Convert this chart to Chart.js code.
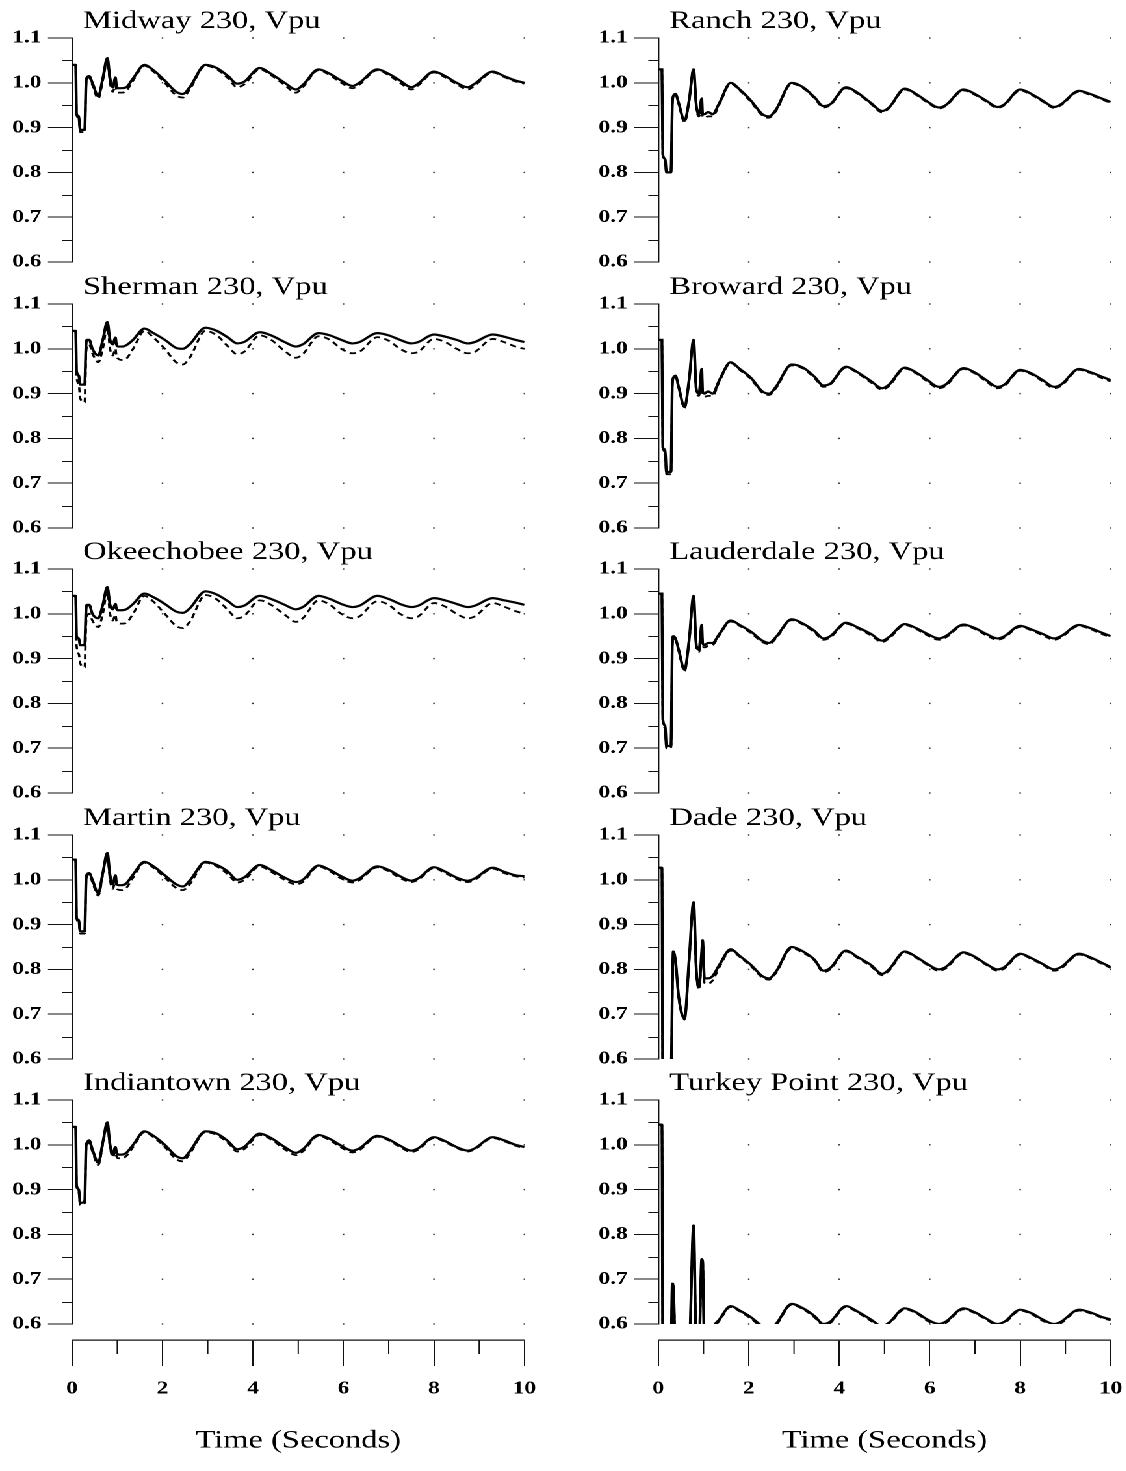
<!DOCTYPE html>
<html>
<head>
<meta charset="utf-8">
<script src="https://cdn.jsdelivr.net/npm/chart.js@4/dist/chart.umd.min.js"></script>
<style>
  body { margin: 0; background: #fff; overflow: hidden; }
  /* la figura original está estirada en horizontal */
  #lienzo { position: relative; width: 866px; height: 1471px; transform: scaleX(1.3); transform-origin: 0 0; }
  #lienzo canvas { position: absolute; }
</style>
</head>
<body>
<div id="lienzo"></div>
<script>
//* instantes de muestreo (segundos), comunes a todas las barras
const tiempo = [
  0, 0.08, 0.1, 0.15, 0.18, 0.28, 0.31, 0.33,
  0.38, 0.45, 0.58, 0.68, 0.78, 0.84, 0.9, 0.96,
  0.98, 1.02, 1.1, 1.2, 1.35, 1.6, 1.8, 2.05,
  2.3, 2.45, 2.6, 2.95, 3.2, 3.45, 3.65, 3.8,
  4.15, 4.4, 4.7, 4.95, 5.1, 5.45, 5.7, 5.95,
  6.2, 6.35, 6.75, 7.0, 7.25, 7.5, 7.65, 8.0,
  8.25, 8.5, 8.75, 8.9, 9.3, 9.55, 9.8, 10
];

//* tensiones en p.u. (línea continua y línea discontinua)
const midwayContinua = [
  1.04, 1.04, 0.93, 0.925, 0.895, 0.895, 1.0, 1.012,
  1.015, 1.0, 0.97, 1.01, 1.055, 1.01, 0.99, 1.012,
  0.995, 0.988, 0.988, 0.99, 1.01, 1.04, 1.028, 1.005,
  0.98, 0.975, 0.99, 1.04, 1.033, 1.015, 0.998, 1.002,
  1.033, 1.02, 1.0, 0.985, 0.995, 1.03, 1.02, 1.005,
  0.993, 1.0, 1.03, 1.02, 1.005, 0.99, 0.998, 1.025,
  1.015, 1.0, 0.99, 0.998, 1.025, 1.015, 1.005, 1.0
];
const midwayPunteada = [
  1.04, 1.04, 0.93, 0.92, 0.89, 0.89, 0.995, 1.008,
  1.012, 0.995, 0.965, 1.005, 1.05, 1.0, 0.98, 0.995,
  0.985, 0.978, 0.978, 0.982, 1.005, 1.038, 1.025, 1.0,
  0.972, 0.967, 0.985, 1.038, 1.03, 1.01, 0.99, 0.996,
  1.03, 1.017, 0.995, 0.978, 0.99, 1.028, 1.017, 1.0,
  0.988, 0.996, 1.028, 1.017, 1.0, 0.985, 0.994, 1.023,
  1.012, 0.997, 0.985, 0.994, 1.023, 1.013, 1.003, 0.998
];
const shermanContinua = [
  1.04, 1.04, 0.95, 0.94, 0.92, 0.92, 1.01, 1.02,
  1.02, 1.0, 0.985, 1.02, 1.06, 1.02, 1.01, 1.025,
  1.01, 1.005, 1.005, 1.008, 1.02, 1.045, 1.035, 1.02,
  1.002, 1.0, 1.01, 1.047, 1.04, 1.025, 1.012, 1.015,
  1.037, 1.03, 1.015, 1.005, 1.01, 1.035, 1.03, 1.02,
  1.012, 1.015, 1.035, 1.03, 1.02, 1.012, 1.015, 1.032,
  1.027, 1.02, 1.012, 1.015, 1.032, 1.027, 1.02, 1.015
];
const shermanPunteada = [
  1.04, 1.04, 0.94, 0.92, 0.89, 0.88, 0.99, 1.005,
  1.01, 0.99, 0.97, 1.0, 1.05, 1.0, 0.985, 1.0,
  0.985, 0.978, 0.975, 0.978, 1.0, 1.04, 1.025, 1.0,
  0.97, 0.965, 0.98, 1.04, 1.03, 1.005, 0.988, 0.993,
  1.03, 1.02, 0.995, 0.98, 0.988, 1.028, 1.02, 1.0,
  0.99, 0.993, 1.026, 1.018, 1.0, 0.99, 0.993, 1.022,
  1.015, 1.0, 0.99, 0.993, 1.022, 1.015, 1.005, 1.0
];
const okeechobeeContinua = [
  1.04, 1.04, 0.95, 0.945, 0.93, 0.93, 1.01, 1.02,
  1.02, 1.0, 0.99, 1.02, 1.06, 1.02, 1.01, 1.022,
  1.012, 1.008, 1.008, 1.01, 1.022, 1.045, 1.037, 1.022,
  1.005, 1.002, 1.012, 1.05, 1.043, 1.028, 1.015, 1.018,
  1.04, 1.033, 1.02, 1.01, 1.015, 1.04, 1.033, 1.022,
  1.015, 1.018, 1.04, 1.033, 1.022, 1.015, 1.018, 1.035,
  1.03, 1.022, 1.015, 1.018, 1.035, 1.03, 1.025, 1.02
];
const okeechobeePunteada = [
  1.04, 1.04, 0.93, 0.91, 0.89, 0.88, 0.98, 0.995,
  1.0, 0.985, 0.97, 1.0, 1.05, 1.0, 0.985, 0.998,
  0.985, 0.98, 0.978, 0.98, 1.0, 1.04, 1.027, 1.0,
  0.973, 0.968, 0.982, 1.042, 1.032, 1.008, 0.99, 0.995,
  1.03, 1.02, 0.998, 0.982, 0.99, 1.03, 1.02, 1.0,
  0.99, 0.994, 1.028, 1.02, 1.0, 0.99, 0.994, 1.024,
  1.016, 1.0, 0.99, 0.994, 1.024, 1.016, 1.006, 1.0
];
const martinContinua = [
  1.045, 1.045, 0.915, 0.91, 0.885, 0.885, 1.0, 1.012,
  1.015, 1.0, 0.97, 1.015, 1.06, 1.01, 0.99, 1.01,
  0.995, 0.988, 0.988, 0.992, 1.012, 1.04, 1.03, 1.01,
  0.99, 0.985, 0.998, 1.04, 1.033, 1.018, 1.0, 1.005,
  1.033, 1.022, 1.005, 0.995, 1.0, 1.032, 1.022, 1.008,
  0.998, 1.003, 1.03, 1.022, 1.008, 0.998, 1.003, 1.028,
  1.018, 1.005, 0.998, 1.003, 1.027, 1.018, 1.01, 1.008
];
const martinPunteada = [
  1.045, 1.045, 0.915, 0.905, 0.88, 0.88, 0.995, 1.008,
  1.012, 0.995, 0.965, 1.01, 1.055, 1.0, 0.98, 0.998,
  0.985, 0.978, 0.977, 0.982, 1.005, 1.038, 1.027, 1.005,
  0.982, 0.977, 0.99, 1.038, 1.03, 1.012, 0.994, 0.999,
  1.03, 1.018, 1.0, 0.99, 0.995, 1.03, 1.019, 1.003,
  0.994, 0.999, 1.028, 1.019, 1.004, 0.995, 1.0, 1.026,
  1.015, 1.002, 0.995, 1.0, 1.025, 1.015, 1.008, 1.005
];
const indiantownContinua = [
  1.04, 1.04, 0.91, 0.9, 0.87, 0.875, 0.995, 1.005,
  1.01, 0.99, 0.96, 1.005, 1.05, 1.0, 0.98, 0.995,
  0.985, 0.978, 0.978, 0.982, 1.0, 1.03, 1.02, 1.0,
  0.975, 0.97, 0.985, 1.03, 1.025, 1.008, 0.99, 0.995,
  1.025, 1.015, 0.995, 0.982, 0.99, 1.022, 1.013, 0.998,
  0.987, 0.992, 1.02, 1.012, 0.998, 0.987, 0.992, 1.017,
  1.008, 0.995, 0.987, 0.992, 1.017, 1.01, 1.0, 0.995
];
const indiantownPunteada = [
  1.04, 1.04, 0.91, 0.895, 0.865, 0.87, 0.99, 1.0,
  1.005, 0.985, 0.955, 1.0, 1.045, 0.995, 0.972, 0.985,
  0.975, 0.97, 0.97, 0.975, 0.995, 1.028, 1.017, 0.995,
  0.968, 0.963, 0.98, 1.028, 1.022, 1.004, 0.985, 0.99,
  1.022, 1.012, 0.99, 0.977, 0.985, 1.02, 1.01, 0.994,
  0.983, 0.988, 1.018, 1.01, 0.995, 0.984, 0.989, 1.015,
  1.006, 0.993, 0.985, 0.99, 1.015, 1.008, 0.998, 0.993
];
const ranchContinua = [
  1.03, 1.03, 0.84, 0.83, 0.8, 0.8, 0.95, 0.97,
  0.975, 0.955, 0.915, 0.96, 1.03, 0.95, 0.93, 0.965,
  0.93, 0.93, 0.935, 0.93, 0.955, 1.0, 0.985, 0.96,
  0.93, 0.925, 0.94, 1.0, 0.99, 0.968, 0.948, 0.952,
  0.99, 0.978, 0.955, 0.937, 0.945, 0.987, 0.975, 0.958,
  0.945, 0.95, 0.985, 0.975, 0.96, 0.946, 0.952, 0.985,
  0.975, 0.96, 0.946, 0.952, 0.982, 0.975, 0.965, 0.957
];
const ranchPunteada = [
  1.03, 1.03, 0.84, 0.83, 0.8, 0.8, 0.95, 0.97,
  0.975, 0.953, 0.912, 0.958, 1.028, 0.945, 0.925, 0.955,
  0.925, 0.922, 0.925, 0.925, 0.952, 0.998, 0.983, 0.957,
  0.927, 0.922, 0.937, 0.998, 0.988, 0.966, 0.945, 0.95,
  0.988, 0.976, 0.953, 0.934, 0.943, 0.985, 0.973, 0.956,
  0.943, 0.948, 0.983, 0.973, 0.958, 0.944, 0.95, 0.983,
  0.973, 0.958, 0.944, 0.95, 0.98, 0.973, 0.963, 0.955
];
const browardContinua = [
  1.02, 1.02, 0.78, 0.775, 0.725, 0.725, 0.92, 0.935,
  0.94, 0.915, 0.87, 0.93, 1.02, 0.91, 0.9, 0.955,
  0.905, 0.9, 0.905, 0.9, 0.93, 0.97, 0.955, 0.935,
  0.905, 0.9, 0.915, 0.965, 0.958, 0.938, 0.918, 0.922,
  0.96, 0.948, 0.928, 0.912, 0.92, 0.958, 0.947, 0.93,
  0.915, 0.92, 0.957, 0.947, 0.93, 0.915, 0.92, 0.953,
  0.945, 0.93, 0.915, 0.92, 0.955, 0.948, 0.938, 0.93
];
const browardPunteada = [
  1.02, 1.02, 0.78, 0.77, 0.72, 0.72, 0.915, 0.93,
  0.938, 0.912, 0.868, 0.928, 1.015, 0.905, 0.895, 0.948,
  0.9, 0.893, 0.895, 0.895, 0.927, 0.968, 0.953, 0.932,
  0.902, 0.897, 0.912, 0.963, 0.956, 0.935, 0.915, 0.92,
  0.958, 0.946, 0.925, 0.909, 0.917, 0.956, 0.945, 0.927,
  0.912, 0.917, 0.955, 0.945, 0.927, 0.912, 0.917, 0.951,
  0.943, 0.927, 0.912, 0.917, 0.953, 0.946, 0.935, 0.927
];
const lauderdaleContinua = [
  1.045, 1.045, 0.765, 0.75, 0.705, 0.705, 0.93, 0.95,
  0.945, 0.92, 0.875, 0.94, 1.04, 0.93, 0.92, 0.975,
  0.935, 0.93, 0.935, 0.935, 0.955, 0.985, 0.975, 0.96,
  0.94, 0.935, 0.948, 0.988, 0.978, 0.962, 0.945, 0.95,
  0.98, 0.97, 0.955, 0.94, 0.948, 0.977, 0.968, 0.955,
  0.945, 0.95, 0.976, 0.968, 0.955, 0.945, 0.95, 0.973,
  0.965, 0.955, 0.945, 0.95, 0.975, 0.968, 0.958, 0.95
];
const lauderdalePunteada = [
  1.045, 1.045, 0.765, 0.745, 0.7, 0.7, 0.925, 0.945,
  0.942, 0.917, 0.872, 0.936, 1.035, 0.925, 0.915, 0.968,
  0.93, 0.925, 0.928, 0.93, 0.952, 0.983, 0.973, 0.957,
  0.937, 0.932, 0.945, 0.986, 0.976, 0.959, 0.942, 0.947,
  0.978, 0.968, 0.952, 0.937, 0.945, 0.975, 0.966, 0.952,
  0.942, 0.947, 0.974, 0.966, 0.952, 0.942, 0.947, 0.971,
  0.963, 0.952, 0.942, 0.947, 0.973, 0.966, 0.955, 0.948
];
const dadeContinua = [
  1.027, 1.027, 0.55, 0.55, 0.55, 0.55, 0.75, 0.84,
  0.82, 0.74, 0.69, 0.82, 0.95, 0.8, 0.76, 0.84,
  0.865, 0.78, 0.78, 0.785, 0.81, 0.845, 0.83, 0.81,
  0.785, 0.78, 0.795, 0.85, 0.84, 0.822, 0.797, 0.803,
  0.842, 0.828, 0.81, 0.79, 0.8, 0.84, 0.828, 0.812,
  0.8, 0.805, 0.838, 0.828, 0.812, 0.8, 0.805, 0.835,
  0.825, 0.812, 0.8, 0.805, 0.835, 0.827, 0.815, 0.805
];
const dadePunteada = [
  1.027, 1.027, 0.55, 0.55, 0.55, 0.55, 0.74, 0.835,
  0.818, 0.738, 0.688, 0.815, 0.945, 0.795, 0.755, 0.83,
  0.855, 0.77, 0.768, 0.775, 0.805, 0.842, 0.828, 0.807,
  0.782, 0.777, 0.792, 0.847, 0.837, 0.82, 0.794, 0.8,
  0.84, 0.826, 0.807, 0.787, 0.797, 0.838, 0.826, 0.81,
  0.797, 0.802, 0.836, 0.826, 0.81, 0.797, 0.802, 0.833,
  0.823, 0.81, 0.797, 0.802, 0.833, 0.825, 0.813, 0.803
];
const turkeyContinua = [
  1.045, 1.045, 0.55, 0.55, 0.55, 0.55, 0.69, 0.685,
  0.55, 0.55, 0.55, 0.55, 0.82, 0.55, 0.55, 0.745,
  0.74, 0.55, 0.55, 0.59, 0.61, 0.64, 0.63, 0.615,
  0.595, 0.59, 0.6, 0.645, 0.635, 0.618, 0.6, 0.605,
  0.64, 0.628, 0.61, 0.595, 0.603, 0.635, 0.626, 0.61,
  0.6, 0.605, 0.635, 0.626, 0.612, 0.6, 0.605, 0.632,
  0.624, 0.61, 0.6, 0.605, 0.632, 0.626, 0.616, 0.61
];
const turkeyPunteada = [
  1.045, 1.045, 0.55, 0.55, 0.55, 0.55, 0.68, 0.69,
  0.55, 0.55, 0.55, 0.55, 0.815, 0.55, 0.55, 0.74,
  0.745, 0.55, 0.55, 0.585, 0.607, 0.638, 0.628, 0.612,
  0.592, 0.587, 0.597, 0.643, 0.633, 0.615, 0.597, 0.602,
  0.638, 0.626, 0.607, 0.592, 0.6, 0.633, 0.624, 0.607,
  0.597, 0.602, 0.633, 0.624, 0.61, 0.597, 0.602, 0.63,
  0.622, 0.607, 0.597, 0.602, 0.63, 0.624, 0.614, 0.608
];

//* marcas de los ejes
const puntosRejillaX = [2, 4, 6, 8, 10];
const puntosRejillaY = [0.6, 0.7, 0.8, 0.9, 1.0, 1.1];
const marcasMenoresY = [0.65, 0.75, 0.85, 0.95, 1.05];
const marcasMenoresX = [1, 3, 5, 7, 9];

const ANCHO_EJE = 55.4;
const ANCHO_LIENZO = 415;
const PASO_FILA = 265.5;
const COLUMNAS = [0, 450.8];
const FUENTE = 'Liberation Serif';

//* dibuja los puntitos de la rejilla, las marcas menores y el rótulo
const decoracion = {
  id: 'decoracion',
  beforeDatasetsDraw(chart, args, opts) {
    if (!opts.rejilla) return;
    const { ctx, scales: { x, y } } = chart;
    ctx.save();
    ctx.fillStyle = '#333';
    puntosRejillaX.forEach(t => {
      puntosRejillaY.forEach(v => {
        ctx.fillRect(x.getPixelForValue(t) - 0.6, y.getPixelForValue(v) - 0.7, 1.2, 1.4);
      });
    });
    ctx.restore();
  },
  afterDraw(chart, args, opts) {
    const { ctx, chartArea: area, scales: { x, y } } = chart;
    ctx.save();
    ctx.strokeStyle = '#111';
    ctx.lineWidth = 1;
    ctx.beginPath();
    if (opts.menoresY) {
      opts.menoresY.forEach(v => {
        const py = Math.round(y.getPixelForValue(v)) + 0.5;
        ctx.moveTo(area.left - 7.7, py);
        ctx.lineTo(area.left, py);
      });
    }
    if (opts.menoresX) {
      opts.menoresX.forEach(t => {
        const px = x.getPixelForValue(t);
        ctx.moveTo(px, area.bottom);
        ctx.lineTo(px, area.bottom + 14);
      });
    }
    ctx.stroke();
    if (opts.titulo) {
      ctx.fillStyle = '#000';
      ctx.font = `25px "${FUENTE}"`;
      ctx.textBaseline = 'alphabetic';
      ctx.fillText(opts.titulo, area.left + 8.5, area.top - 10);
    }
    ctx.restore();
  }
};

function nuevoLienzo(izquierda, arriba, alto) {
  const lienzo = document.createElement('canvas');
  lienzo.width = ANCHO_LIENZO;
  lienzo.height = alto;
  lienzo.style.left = izquierda + 'px';
  lienzo.style.top = arriba + 'px';
  document.getElementById('lienzo').appendChild(lienzo);
  return lienzo;
}

function crearPanel(columna, fila, titulo, continua, punteada) {
  const lienzo = nuevoLienzo(COLUMNAS[columna], PASO_FILA * fila, 285);
  new Chart(lienzo, {
    type: 'line',
    data: {
      labels: tiempo,
      datasets: [{
        data: continua,
        borderColor: '#000',
        borderWidth: 2.2,
        pointRadius: 0,
        cubicInterpolationMode: 'monotone'
      }, {
        data: punteada,
        borderColor: '#000',
        borderWidth: 1.8,
        borderDash: [5, 3.5],
        pointRadius: 0,
        cubicInterpolationMode: 'monotone'
      }]
    },
    options: {
      responsive: false,
      animation: false,
      devicePixelRatio: 2,
      layout: { padding: { top: 38, bottom: 23, left: 0, right: 11.6 } },
      plugins: {
        legend: { display: false },
        tooltip: { enabled: false },
        decoracion: { rejilla: true, menoresY: marcasMenoresY, titulo: titulo }
      },
      scales: {
        x: { type: 'linear', min: 0, max: 10, display: false },
        y: {
          min: 0.6,
          max: 1.1,
          afterFit: escala => { escala.width = ANCHO_EJE; },
          border: { display: true, color: '#111', width: 1.2 },
          grid: { drawOnChartArea: false, drawTicks: true, tickLength: 18.5, color: '#111', lineWidth: 1 },
          ticks: {
            stepSize: 0.1,
            padding: 5,
            color: '#000',
            font: { family: FUENTE, size: 18, weight: 'bold' },
            callback: v => v.toFixed(1)
          }
        }
      }
    },
    plugins: [decoracion]
  });
}

//* eje de tiempo común debajo de cada columna
function crearEjeTiempo(columna) {
  const lienzo = nuevoLienzo(COLUMNAS[columna], 1300, 171);
  new Chart(lienzo, {
    type: 'line',
    data: { datasets: [] },
    options: {
      responsive: false,
      animation: false,
      devicePixelRatio: 2,
      layout: { padding: { top: 10, bottom: 0, left: ANCHO_EJE, right: 11.6 } },
      plugins: {
        legend: { display: false },
        tooltip: { enabled: false },
        decoracion: { menoresX: marcasMenoresX }
      },
      scales: {
        x: {
          type: 'linear',
          min: 0,
          max: 10,
          //* alto fijo y sin relleno lateral para que coincida con los paneles
          afterFit: escala => {
            escala.height = 131;
            escala.paddingLeft = 0;
            escala.paddingRight = 0;
          },
          border: { display: true, color: '#111', width: 1.2 },
          grid: {
            drawOnChartArea: false,
            tickLength: 26,
            color: c => (c.tick && c.tick.value % 2 === 0) ? '#111' : 'rgba(0,0,0,0)'
          },
          ticks: {
            stepSize: 1,
            autoSkip: false,
            maxRotation: 0,
            padding: 12,
            color: '#000',
            font: { family: FUENTE, size: 18, weight: 'bold' },
            callback: v => (v % 2 === 0 ? v : '')
          },
          title: {
            display: true,
            text: 'Time (Seconds)',
            color: '#000',
            font: { family: FUENTE, size: 25 },
            padding: { top: 0, bottom: 15 }
          }
        },
        y: { display: false, min: 0, max: 1 }
      }
    },
    plugins: [decoracion]
  });
}

//* aquí se crean los diez paneles
crearPanel(0, 0, 'Midway 230, Vpu', midwayContinua, midwayPunteada);
crearPanel(0, 1, 'Sherman 230, Vpu', shermanContinua, shermanPunteada);
crearPanel(0, 2, 'Okeechobee 230, Vpu', okeechobeeContinua, okeechobeePunteada);
crearPanel(0, 3, 'Martin 230, Vpu', martinContinua, martinPunteada);
crearPanel(0, 4, 'Indiantown 230, Vpu', indiantownContinua, indiantownPunteada);
crearPanel(1, 0, 'Ranch 230, Vpu', ranchContinua, ranchPunteada);
crearPanel(1, 1, 'Broward 230, Vpu', browardContinua, browardPunteada);
crearPanel(1, 2, 'Lauderdale 230, Vpu', lauderdaleContinua, lauderdalePunteada);
crearPanel(1, 3, 'Dade 230, Vpu', dadeContinua, dadePunteada);
crearPanel(1, 4, 'Turkey Point 230, Vpu', turkeyContinua, turkeyPunteada);
crearEjeTiempo(0);
crearEjeTiempo(1);
</script>
</body>
</html>
